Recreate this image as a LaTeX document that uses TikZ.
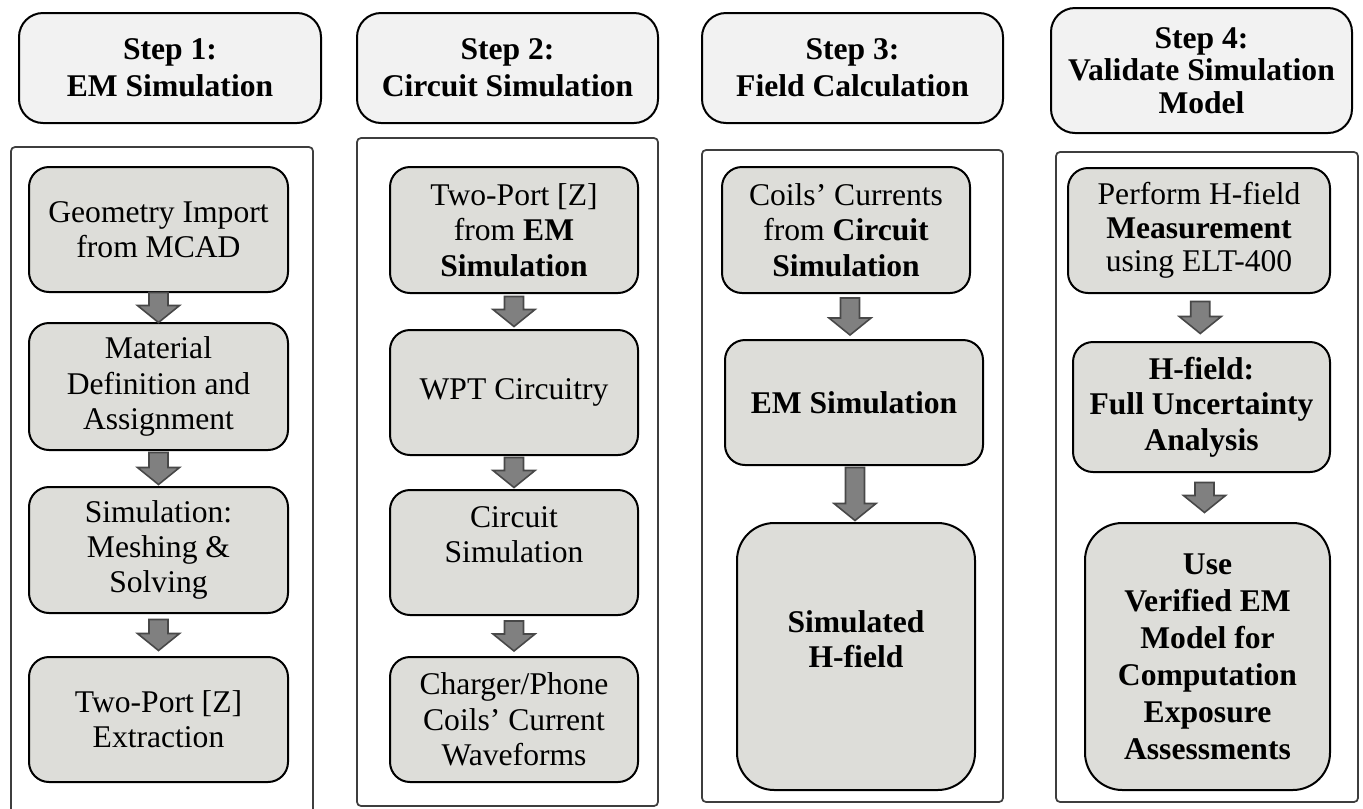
\documentclass[tikz,border=0pt]{standalone}
\usepackage{fontspec}
\setmainfont{Liberation Serif}
\usetikzlibrary{calc}
\definecolor{boxgray}{RGB}{221,221,217}
\definecolor{headgray}{RGB}{242,242,242}
\definecolor{arrowgray}{RGB}{128,128,128}
\definecolor{arrowline}{RGB}{72,72,72}
\definecolor{panelline}{RGB}{62,62,62}
\newcommand{\pxu}{0.75pt}
\newcommand{\flowarrow}[3]{%
  \coordinate (m) at ($(#1.south)!0.5!(#2.north)$);
  \draw [arrowbody] ([shift={(-9.5,-#3/2)}]m) -- ++(19,0) -- ++(0,#3-17) -- ++(11.5,0)
    -- ([shift={(0,#3/2)}]m) -- ++(-21,-17) -- ++(11.5,0) -- cycle;}
\begin{document}
\begin{tikzpicture}[x=0.75pt,y=-0.75pt,
  headbox/.style={draw=black, fill=headgray, line width=1.5pt, rounded corners=18pt, inner sep=0pt, align=center, font=\bfseries\fontsize{23.7}{27.75}\selectfont},
  stepbox/.style={draw=black, fill=boxgray, line width=1.5pt, rounded corners=15pt, inner sep=0pt, align=center, font=\fontsize{23.7}{26.5}\selectfont},
  boldbox/.style={stepbox, font=\bfseries\fontsize{23.7}{26.5}\selectfont},
  panel/.style={draw=panelline, line width=1.3pt, rounded corners=3pt},
  arrowbody/.style={fill=arrowgray, draw=arrowline, line width=1.2pt}]
\path [use as bounding box, clip] (0,0) rectangle (1363,808);
\draw [panel] (11,147) rectangle (313,830);
\draw [panel] (357,138) rectangle (658,806);
\draw [panel] (702,150) rectangle (1003,802);
\draw [panel] (1056,152) rectangle (1358,802);
\node [headbox, minimum width=302*\pxu, minimum height=110*\pxu] (hd1) at (170,68) {Step 1:\\EM Simulation};
\node [headbox, minimum width=301*\pxu, minimum height=110*\pxu] (hd2) at (507.5,68) {Step 2:\\Circuit Simulation};
\node [headbox, minimum width=301*\pxu, minimum height=110*\pxu] (hd3) at (852.5,68) {Step 3:\\Field Calculation};
\node [headbox, minimum width=301*\pxu, minimum height=125*\pxu, font=\bfseries\fontsize{23.7}{24.5}\selectfont] (hd4) at (1201.5,70.5) {Step 4:\\Validate Simulation\\Model};
\node [stepbox, minimum width=259*\pxu, minimum height=125*\pxu] (em1) at (158.5,229.5) {Geometry Import\\from MCAD};
\node [stepbox, minimum width=259*\pxu, minimum height=127*\pxu] (em2) at (158.5,386.5) {Material\\Definition and\\Assignment};
\node [stepbox, minimum width=259*\pxu, minimum height=126*\pxu] (em3) at (158.5,550) {Simulation:\\Meshing \&\\Solving};
\node [stepbox, minimum width=259*\pxu, minimum height=125*\pxu] (em4) at (158.5,719.5) {Two-Port [Z]\\Extraction};
\node [stepbox, minimum width=248*\pxu, minimum height=126*\pxu] (ci1) at (514,230) {Two-Port [Z]\\from \textbf{EM}\\\textbf{Simulation}};
\node [stepbox, minimum width=248*\pxu, minimum height=125*\pxu] (ci2) at (514,392.5) {WPT Circuitry};
\node [stepbox, minimum width=248*\pxu, minimum height=125*\pxu] (ci3) at (514,552.5) {Circuit\\Simulation\\~};
\node [stepbox, minimum width=248*\pxu, minimum height=125*\pxu] (ci4) at (514,719.5) {Charger/Phone\\Coils’ Current\\Waveforms};
\node [stepbox, minimum width=248*\pxu, minimum height=126*\pxu] (fc1) at (846,230) {Coils’ Currents\\from \textbf{Circuit}\\\textbf{Simulation}};
\node [boldbox, minimum width=258*\pxu, minimum height=125*\pxu] (fc2) at (854,402.5) {EM Simulation};
\node [boldbox, minimum width=238*\pxu, minimum height=267*\pxu, rounded corners=28pt] (fc3) at (856,656.5) {Simulated\\H-field\\~};
\node [stepbox, minimum width=262*\pxu, minimum height=125*\pxu, font=\fontsize{23.7}{25}\selectfont] (vd1) at (1199,230.5) {Perform H-field\\\textbf{Measurement}\\using ELT-400};
\node [boldbox, minimum width=257*\pxu, minimum height=130*\pxu] (vd2) at (1201.5,407) {H-field:\\Full Uncertainty\\Analysis};
\node [boldbox, minimum width=245*\pxu, minimum height=267*\pxu, rounded corners=28pt, font=\bfseries\fontsize{23.7}{27.75}\selectfont] (vd3) at (1207.5,656.5) {Use\\Verified EM\\Model for\\Computation\\Exposure\\Assessments};
\flowarrow{em1}{em2}{30}
\flowarrow{em2}{em3}{32}
\flowarrow{em3}{em4}{31}
\flowarrow{ci1}{ci2}{30}
\flowarrow{ci2}{ci3}{30}
\flowarrow{ci3}{ci4}{30}
\flowarrow{fc1}{fc2}{37}
\flowarrow{fc2}{fc3}{53}
\flowarrow{vd1}{vd2}{32}
\flowarrow{vd2}{vd3}{30}
\end{tikzpicture}
\end{document}
